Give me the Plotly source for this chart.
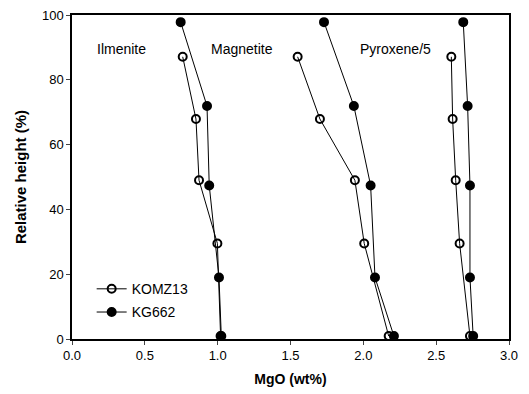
import plotly.graph_objects as go

heights_komz = [87.1, 67.9, 49.0, 29.5, 0.9]
heights_kg = [97.8, 71.9, 47.4, 19.0, 0.9]

ilm_komz = [0.76, 0.851, 0.872, 0.998, 1.02]
ilm_kg = [0.746, 0.927, 0.942, 1.009, 1.025]
mag_komz = [1.549, 1.702, 1.942, 2.006, 2.174]
mag_kg = [1.73, 1.935, 2.05, 2.08, 2.21]
pyx_komz = [2.604, 2.613, 2.634, 2.661, 2.732]
pyx_kg = [2.686, 2.716, 2.732, 2.732, 2.754]

mineral_labels = ["Ilmenite", "Magnetite", "Pyroxene/5"]
label_x = [0.34, 1.17, 2.22]
label_y = [89.5, 89.5, 89.5]

font = "Arial, Liberation Sans, sans-serif"
fig = go.Figure()

def add(xs, ys, name, filled, show):
    fig.add_trace(go.Scatter(
        x=xs, y=ys, mode="lines+markers", name=name, legendgroup=name,
        showlegend=show,
        line=dict(color="black", width=1),
        marker=dict(symbol="circle" if filled else "circle-open", size=8,
                    color="black", line=dict(color="black", width=2)),
    ))

for xs, show in [(ilm_komz, True), (mag_komz, False), (pyx_komz, False)]:
    add(xs, heights_komz, "KOMZ13", False, show)
for xs, show in [(ilm_kg, True), (mag_kg, False), (pyx_kg, False)]:
    add(xs, heights_kg, "KG662", True, show)

for t, x, y in zip(mineral_labels, label_x, label_y):
    fig.add_annotation(x=x, y=y, text=t, showarrow=False,
                       font=dict(family=font, size=14, color="black"))

fig.update_layout(
    width=529, height=394,
    margin=dict(l=72, r=20, t=15, b=55),
    paper_bgcolor="white", plot_bgcolor="white",
    font=dict(family=font, size=13, color="black"),
    legend=dict(x=0.045, y=0.203, xanchor="left", yanchor="top",
                bgcolor="rgba(0,0,0,0)", font=dict(size=14),
                itemwidth=30, tracegroupgap=2),
    xaxis=dict(range=[0, 3], tickvals=[0, 0.5, 1, 1.5, 2, 2.5, 3],
               tickformat=".1f", ticks="outside", ticklen=4,
               showgrid=False, zeroline=False, automargin=False,
               showline=True, linecolor="black", linewidth=1.5, mirror=True,
               title=dict(text="<b>MgO (wt%)</b>", font=dict(size=14), standoff=12)),
    yaxis=dict(range=[0, 100], tickvals=[0, 20, 40, 60, 80, 100],
               ticks="outside", ticklen=4,
               showgrid=False, zeroline=False, automargin=False,
               showline=True, linecolor="black", linewidth=1.5, mirror=True,
               title=dict(text="<b>Relative height (%)</b>", font=dict(size=15), standoff=12)),
)

fig.write_html("out.html")
